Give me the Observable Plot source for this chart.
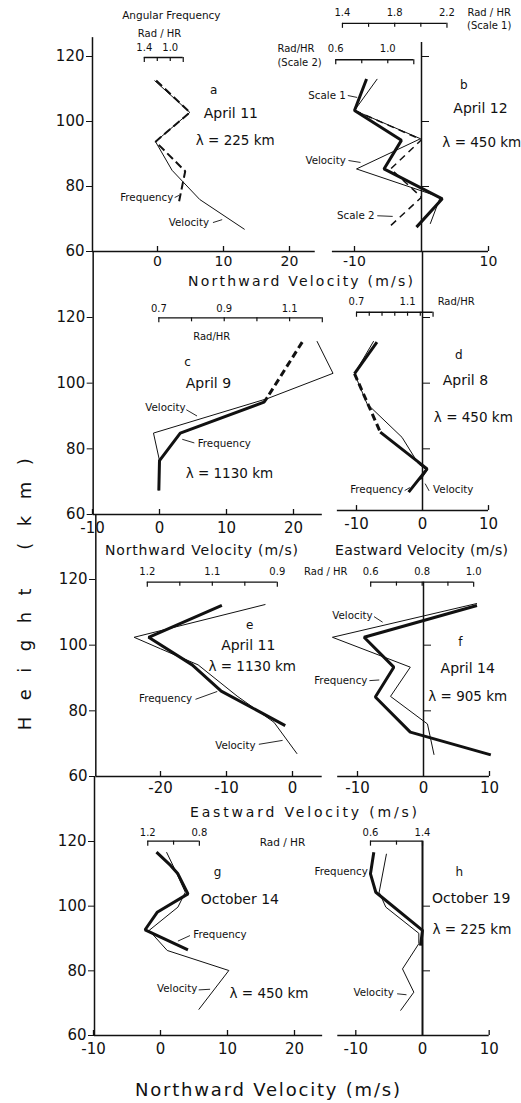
<!DOCTYPE html>
<html>
<head>
<meta charset="utf-8">
<script src="https://cdn.jsdelivr.net/npm/d3@7"></script>
<script src="https://cdn.jsdelivr.net/npm/@observablehq/plot@0.6"></script>
<style>
html, body { margin: 0; padding: 0; background: #fff; }
#fig { position: relative; width: 521px; height: 1103px; overflow: hidden; font-family: "DejaVu Sans", sans-serif; color: #111; }
.title { position: absolute; white-space: nowrap; line-height: 1; color: #111; }
</style>
</head>
<body>
<div id="fig"></div>
<script>
// ================= DATA =================
// heights in km, velocities in m/s
const yTickLabels = [60, 80, 100, 120];

// a — April 11, λ = 225 km (northward)
const aVelH = [112.6, 102.8, 93.8, 85.0, 76.0, 66.8];
const aVelV = [-0.45, 4.9, -0.3, 2.2, 6.4, 13.2];
const aFrqH = [112.6, 102.8, 93.8, 84.7, 74.7];
const aFrqV = [-0.2, 4.9, -0.3, 4.2, 3.2];
const aXTicks = [0, 10, 20];
const aFreqTicks = ["1.4", "", "1.0", ""];

// b — April 12, λ = 450 km (northward)
const bVelH = [113.1, 103.4, 94.7, 85.4, 76.7, 68.5];
const bVelV = [-6.6, -10.0, -0.15, -9.7, 2.8, 1.3];
const bS1H = [113.1, 103.4, 94.2, 85.4, 76.2, 67.5];
const bS1V = [-8.2, -10.0, -3.0, -5.6, 3.1, -0.75];
const bS2H = [103.4, 94.4, 85.4, 76.7, 67.0];
const bS2V = [-10.0, 0.0, -4.6, 0.0, -5.1];
const bXTicks = [-10, 10];
const bScale1Ticks = ["1.4", "", "1.8", "", "2.2"];
const bScale2Ticks = ["0.6", "", "1.0", ""];

// c — April 9, λ = 1130 km (northward)
const cVelH = [112.8, 103.0, 95.3, 84.8, 76.4, 67.3];
const cVelV = [23.5, 25.9, 16.1, -0.9, 0.0, -0.1];
const cFrqH = [112.5, 95.7, 94.2, 84.8, 76.4, 67.3];
const cFrqV = [21.3, 16.1, 15.6, 3.1, 0.0, -0.1];
const cFrqDash = [1, 0, 0, 0, 0];
const cXTicks = [-10, 0, 10, 20];
const cFreqTicks = ["0.7", "", "0.9", "", "1.1", ""];

// d — April 8, λ = 450 km (eastward)
const dVelH = [112.8, 102.9, 93.7, 83.5, 75.4, 73.4, 70.5];
const dVelV = [-7.4, -10.3, -8.4, -3.1, -0.6, 0.7, -0.3];
const dFrqH = [112.5, 102.9, 85.1, 73.9, 66.8];
const dFrqV = [-6.9, -10.3, -6.4, 0.7, -2.1];
const dFrqDash = [0, 1, 0, 0];
const dXTicks = [-10, 0, 10];
const dFreqTicks = ["0.7", "", "", "", "1.1", "", ""];

// e — April 11, λ = 1130 km (eastward)
const eVelH = [112.4, 102.4, 98.9, 94.0, 84.5, 76.5, 66.9];
const eVelV = [-4.1, -24.0, -20.0, -14.3, -8.4, -2.8, 0.7];
const eFrqH = [112.1, 102.4, 94.0, 86.0, 75.5];
const eFrqV = [-10.7, -21.8, -15.2, -10.8, -1.1];
const eXTicks = [-20, -10, 0];
const eFreqTicks = ["1.2", "", "1.1", "", "0.9"];

// f — April 14, λ = 905 km (eastward)
const fVelH = [112.7, 102.4, 93.3, 84.4, 76.0, 66.6];
const fVelV = [8.1, -13.8, -2.0, -5.0, 0.6, 1.6];
const fFrqH = [112.1, 102.4, 93.3, 84.2, 73.5, 66.6];
const fFrqV = [8.1, -9.0, -4.5, -7.3, -2.0, 10.2];
const fXTicks = [-10, 0, 10];
const fFreqTicks = ["0.6", "", "0.8", "", "1.0"];

// g — October 14, λ = 450 km (northward)
const gVelH = [116.7, 112.0, 104.3, 99.7, 92.5, 86.3, 80.1, 68.0];
const gVelV = [0.9, 2.0, 3.7, 2.6, -1.7, 1.0, 10.2, 5.7];
const gFrqH = [116.7, 112.6, 110.0, 103.8, 98.1, 92.7, 86.5];
const gFrqV = [-0.6, 1.5, 2.6, 4.1, -0.5, -2.3, 4.1];
const gXTicks = [-10, 0, 10, 20];
const gFreqTicks = ["1.2", "", "0.8"];

// h — October 19, λ = 225 km (northward)
const hVelH = [116.2, 104.3, 99.7, 91.6, 88.4, 80.6, 73.4, 67.7];
const hVelV = [-5.4, -6.5, -5.5, -0.55, -0.55, -3.0, -1.3, -3.3];
const hFrqH = [116.7, 110.0, 104.3, 92.5, 87.8];
const hFrqV = [-7.3, -7.8, -7.0, 0.0, -0.3];
const hXTicks = [-10, 0, 10];
const hFreqTicks = ["0.6", "", "1.4"];

// ================= LAYOUT =================
const W = 521, H = 1103;
const INK = "#111";
const fig = document.getElementById("fig");

function runs(hs, vs, dash) {
  const out = []; let cur = null;
  for (let i = 0; i < hs.length - 1; i++) {
    const d = !!(dash && dash[i]);
    if (!cur || cur.dashed !== d) { cur = {dashed: d, pts: [{h: hs[i], v: vs[i]}]}; out.push(cur); }
    cur.pts.push({h: hs[i + 1], v: vs[i + 1]});
  }
  return out;
}

function drawPanel(p) {
  const ky = (p.yr[1] - p.yr[3]) / (p.yr[2] - p.yr[0]);
  const tk = 5 / ky, btk = 4 / ky;
  const marks = [];
  // horizontal axis line + inward ticks + labels
  marks.push(Plot.ruleY([p.axisH], {x1: p.xExt[0], x2: p.xExt[1], stroke: INK, strokeWidth: 1.5}));
  marks.push(Plot.ruleX(p.xTickMarks, {x: d => d, y1: p.axisH, y2: p.axisH + tk, stroke: INK, strokeWidth: 1.3}));
  marks.push(Plot.axisX({anchor: "bottom", ticks: p.xLabels, tickSize: 0, tickPadding: p.xPad || 8, fontSize: p.xFont || 15, label: null,
    tickFormat: d => String(d), fill: INK}));
  // vertical line + height ticks
  marks.push(Plot.ruleX([p.lineV], {y1: p.lineY[0], y2: p.lineY[1], stroke: INK, strokeWidth: p.lineW || 1.5}));
  marks.push(Plot.axisY({anchor: p.yAnchor, ticks: p.yTicks, tickSize: p.yAnchor === "left" ? 6 : 7, tickPadding: 2, fontSize: 15,
    label: null, stroke: INK, fill: INK, tickFormat: p.yAnchor === "left" ? (d => String(d)) : (() => "")}));
  // secondary Rad/HR scales (brackets)
  for (const b of p.brackets) {
    const n = b.labels.length;
    const tv = d3.range(n).map(i => b.v0 + i * (b.v1 - b.v0) / (n - 1));
    marks.push(Plot.ruleY([b.h], {x1: b.v0, x2: b.v1, stroke: INK, strokeWidth: 1.3}));
    marks.push(Plot.ruleX(tv, {x: d => d, y1: b.h, y2: (d, i) => b.h - (i === 0 || i === n - 1 ? btk * 1.25 : btk), stroke: INK, strokeWidth: 1.2}));
    marks.push(Plot.text(b.labels.map((t, i) => ({t, v: tv[i]})).filter(d => d.t), {x: "v", y: b.lh, text: "t", fontSize: 10, fill: INK}));
  }
  // profiles
  for (const c of p.curves) {
    for (const r of runs(c.h, c.v, c.seg)) {
      marks.push(Plot.line(r.pts, {x: "v", y: "h", stroke: INK, strokeWidth: c.w,
        strokeDasharray: (r.dashed || c.dash) ? (c.dash || "7,4") : null, strokeLinejoin: "miter", strokeLinecap: "butt"}));
    }
  }
  // annotations
  for (const [t, x, y, anchor, size] of p.texts) {
    marks.push(Plot.text([t], {x: () => x, y: () => y, text: d => d, textAnchor: anchor, fontSize: size, fill: INK}));
  }
  if (p.leaders && p.leaders.length)
    marks.push(Plot.link(p.leaders, {x1: d => d[0], y1: d => d[1], x2: d => d[2], y2: d => d[3], stroke: INK, strokeWidth: 0.9}));

  const svg = Plot.plot({
    width: W, height: H,
    marginLeft: p.mL || 0, marginRight: p.mR || 0, marginTop: 0, marginBottom: H - p.axisPx,
    x: {type: "linear", domain: [p.xr[0], p.xr[2]], range: [p.xr[1], p.xr[3]], label: null},
    y: {type: "linear", domain: [p.yr[0], p.yr[2]], range: [p.yr[1], p.yr[3]], label: null},
    style: "position:absolute;left:0;top:0;background:transparent;overflow:visible;font-family:'DejaVu Sans',sans-serif;color:#111;",
    marks
  });
  fig.appendChild(svg);
}

const panels = [
  { // a
    xr: [0, 157, 10, 223], yr: [60, 251, 120, 56], axisPx: 251, axisH: 60,
    xExt: [-9.85, 23.9], xTickMarks: aXTicks, xLabels: aXTicks, xPad: 5, xFont: 14,
    yAnchor: "left", mL: 92, yTicks: yTickLabels, lineV: -9.85, lineY: [60, 125.8],
    brackets: [{labels: aFreqTicks, v0: -2.0, v1: 3.9, h: 119.7, lh: 122.6}],
    curves: [{h: aVelH, v: aVelV, w: 1}, {h: aFrqH, v: aFrqV, w: 2, dash: "8,4"}],
    texts: [
      ["Angular Frequency", 2.1, 132.6, "middle", 10.5],
      ["Rad / HR", 0.3, 127, "middle", 10],
      ["a", 8.5, 109.5, "middle", 12],
      ["April 11", 7.0, 102.5, "start", 14],
      ["λ = 225 km", 5.8, 94.2, "start", 13.5],
      ["Frequency", 2.4, 76.6, "end", 10.3],
      ["Velocity", 1.7, 68.9, "start", 10.3]
    ],
    leaders: [[2.6, 76.6, 3.3, 77.3], [8.4, 68.9, 9.8, 69.8]]
  },
  { // b
    xr: [0, 421, 10, 488], yr: [60, 251, 120, 56], axisPx: 251, axisH: 60,
    xExt: [-13.3, 10], xTickMarks: bXTicks, xLabels: bXTicks, xPad: 5, xFont: 14,
    yAnchor: "right", mR: 100, yTicks: [80, 100, 120], lineV: 0, lineY: [60, 124.3],
    brackets: [
      {labels: bScale1Ticks, v0: -11.8, v1: 3.8, h: 130.2, lh: 133.6},
      {labels: bScale2Ticks, v0: -12.8, v1: -1.15, h: 119, lh: 122.5}
    ],
    curves: [{h: bVelH, v: bVelV, w: 1}, {h: bS1H, v: bS1V, w: 3}, {h: bS2H, v: bS2V, w: 1.5, dash: "7,5"}],
    texts: [
      ["Rad / HR", 10.1, 133.6, "middle", 10],
      ["(Scale 1)", 10.1, 129.6, "middle", 10],
      ["Rad/HR", -21.5, 122.5, "start", 10],
      ["(Scale 2)", -21.5, 118.2, "start", 10],
      ["b", 6.3, 111.1, "middle", 12],
      ["April 12", 8.8, 104, "middle", 14],
      ["λ = 450 km", 9.0, 93.5, "middle", 13.5],
      ["Scale 1", -11.3, 108, "end", 10.3],
      ["Velocity", -11.3, 88, "end", 10.3],
      ["Scale 2", -7.0, 71, "end", 10.3]
    ],
    leaders: [[-11.0, 108, -9.6, 107.4], [-10.9, 88, -9.1, 87.4], [-6.6, 71, -4.3, 70.8]]
  },
  { // c
    xr: [0, 159, 10, 226], yr: [60, 514, 120, 317], axisPx: 514, axisH: 60,
    xExt: [-9.9, 24.3], xTickMarks: cXTicks, xLabels: cXTicks,
    yAnchor: "left", mL: 92.7, yTicks: yTickLabels, lineV: -9.9, lineY: [60, 140.1],
    brackets: [{labels: cFreqTicks, v0: -0.1, v1: 24.3, h: 119.9, lh: 122.6}],
    curves: [{h: cVelH, v: cVelV, w: 1}, {h: cFrqH, v: cFrqV, w: 3, seg: cFrqDash}],
    texts: [
      ["Rad/HR", 7.8, 114, "middle", 10],
      ["c", 4.2, 106.4, "middle", 12],
      ["April 9", 7.3, 99.9, "middle", 14],
      ["Velocity", 3.9, 92.6, "end", 10.3],
      ["Frequency", 5.7, 81.6, "start", 10.3],
      ["λ = 1130 km", 3.9, 72.5, "start", 13.5]
    ],
    leaders: [[4.0, 91.9, 5.6, 90.0], [3.4, 82.9, 5.2, 81.8]]
  },
  { // d
    xr: [0, 422, 10, 488], yr: [60, 514, 120, 317], axisPx: 510, axisH: 61.2,
    xExt: [-12.9, 10], xTickMarks: [-10, 10], xLabels: dXTicks,
    yAnchor: "right", mR: 99, yTicks: [80, 100, 120], lineV: 0, lineY: [61.2, 140.1],
    brackets: [{labels: dFreqTicks, v0: -10, v1: 1.6, h: 121.6, lh: 124.8}],
    curves: [{h: dVelH, v: dVelV, w: 1}, {h: dFrqH, v: dFrqV, w: 3, seg: dFrqDash}],
    texts: [
      ["Rad/HR", 5.1, 124.8, "middle", 10],
      ["d", 5.5, 108.4, "middle", 12],
      ["April 8", 6.5, 100.8, "middle", 14],
      ["λ = 450 km", 7.7, 89.5, "middle", 13.5],
      ["Frequency", -2.9, 67.6, "end", 10.3],
      ["Velocity", 1.6, 67.6, "start", 10.3]
    ],
    leaders: [[-2.7, 67.3, -1.9, 68.2], [0.4, 69.4, 1.0, 67.2]]
  },
  { // e
    xr: [-20, 160, 0, 292], yr: [60, 776, 120, 579], axisPx: 776, axisH: 60,
    xExt: [-29.8, 4.5], xTickMarks: eXTicks, xLabels: eXTicks, xPad: 6,
    yAnchor: "left", mL: 95, yTicks: yTickLabels, lineV: -29.8, lineY: [60, 139.8],
    brackets: [{labels: eFreqTicks, v0: -22, v1: -2.3, h: 119.2, lh: 122.3}],
    curves: [{h: eVelH, v: eVelV, w: 1}, {h: eFrqH, v: eFrqV, w: 3}],
    texts: [
      ["e", -6.5, 106, "middle", 12],
      ["April 11", -6.7, 99.9, "middle", 14],
      ["λ = 1130 km", -6.1, 93.3, "middle", 13.5],
      ["Frequency", -15.2, 83.8, "end", 10.3],
      ["Velocity", -5.6, 69.4, "end", 10.3]
    ],
    leaders: [[-14.7, 83.5, -11.4, 85.9], [-5.1, 69.8, -1.5, 71.0]]
  },
  { // f
    xr: [0, 423, 10, 489], yr: [60, 776, 120, 579], axisPx: 776, axisH: 60,
    xExt: [-13, 10], xTickMarks: [-10, 10], xLabels: fXTicks, xPad: 6,
    yAnchor: "right", mR: 98, yTicks: [80, 100], lineV: 0, lineY: [60, 119.2],
    brackets: [{labels: fFreqTicks, v0: -8.0, v1: 7.6, h: 119.2, lh: 122.3}],
    curves: [{h: fVelH, v: fVelV, w: 1}, {h: fFrqH, v: fFrqV, w: 3}],
    texts: [
      ["Rad / HR", -14.8, 122.2, "middle", 10],
      ["f", 5.6, 100.9, "middle", 12],
      ["April 14", 6.7, 92.8, "middle", 14],
      ["λ = 905 km", 6.7, 84.4, "middle", 13.5],
      ["Velocity", -7.7, 109, "end", 10.3],
      ["Frequency", -8.5, 89.2, "end", 10.3]
    ],
    leaders: [[-7.5, 108.7, -6.2, 107.0], [-8.2, 89.2, -6.7, 89.4]]
  },
  { // g
    xr: [0, 160, 10, 227], yr: [60, 1035, 120, 841], axisPx: 1035, axisH: 60,
    xExt: [-9.85, 24.2], xTickMarks: gXTicks, xLabels: gXTicks,
    yAnchor: "left", mL: 94, yTicks: yTickLabels, lineV: -9.85, lineY: [60, 140.1],
    brackets: [{labels: gFreqTicks, v0: -1.9, v1: 5.8, h: 120.1, lh: 122.7}],
    curves: [{h: gVelH, v: gVelV, w: 1}, {h: gFrqH, v: gFrqV, w: 3}],
    texts: [
      ["Rad / HR", 18.2, 119.7, "middle", 10.5],
      ["g", 8.5, 110.5, "middle", 12],
      ["October 14", 6.0, 102.1, "start", 14],
      ["Frequency", 4.9, 91.2, "start", 10.3],
      ["Velocity", 5.5, 74.5, "end", 10.3],
      ["λ = 450 km", 10.3, 73, "start", 13.5]
    ],
    leaders: [[2.6, 89.2, 4.4, 90.9], [5.7, 74.1, 7.4, 74.3]]
  },
  { // h
    xr: [0, 422, 10, 488.7], yr: [60, 1035, 120, 841], axisPx: 1035, axisH: 60,
    xExt: [-12.7, 10], xTickMarks: [-10, 10], xLabels: hXTicks,
    yAnchor: "right", mR: 99, yTicks: [80, 100], lineV: 0, lineY: [60, 120.1], lineW: 2,
    brackets: [{labels: hFreqTicks, v0: -7.8, v1: 0, h: 120.1, lh: 122.7}],
    curves: [{h: hVelH, v: hVelV, w: 1}, {h: hFrqH, v: hFrqV, w: 3}],
    texts: [
      ["h", 5.5, 110.4, "middle", 12],
      ["October 19", 7.3, 102.4, "middle", 14],
      ["λ = 225 km", 7.4, 92.8, "middle", 13.5],
      ["Frequency", -8.2, 110.8, "end", 10.3],
      ["Velocity", -4.3, 73.1, "end", 10.3]
    ],
    leaders: [[-3.8, 72.9, -2.4, 72.6]]
  }
];

panels.forEach(drawPanel);

// ---------- axis titles (HTML) ----------
function title(text, x, y, w, size) {
  const el = document.createElement("div");
  el.className = "title"; el.textContent = text; el.style.fontSize = size + "px";
  fig.appendChild(el);
  const nat = el.getBoundingClientRect().width;
  el.style.letterSpacing = ((w - nat) / (text.length - 1)) + "px";
  el.style.left = x + "px"; el.style.top = (y - size / 2) + "px";
}
function vtitle(text, cx, cy, w, size) {
  const el = document.createElement("div");
  el.className = "title"; el.textContent = text; el.style.fontSize = size + "px";
  fig.appendChild(el);
  const nat = el.getBoundingClientRect().width;
  const ls = (w - nat) / (text.length - 1);
  el.style.letterSpacing = ls + "px";
  const tw = el.getBoundingClientRect().width;
  el.style.left = (cx - tw / 2) + "px";
  el.style.top = (cy - ls / 2 - size / 2) + "px";
  el.style.transformOrigin = "50% 50%";
  el.style.transform = "rotate(-90deg)";
}
title("Northward Velocity (m/s)", 188, 281, 225, 14);
title("Northward Velocity (m/s)", 105, 550, 193, 14);
title("Eastward Velocity (m/s)", 335, 550, 173, 14);
title("Eastward Velocity (m/s)", 190, 812, 227, 14);
title("Northward Velocity (m/s)", 135, 1090, 265, 18);
vtitle("Height (km)", 25, 594, 272, 18);
</script>
</body>
</html>
